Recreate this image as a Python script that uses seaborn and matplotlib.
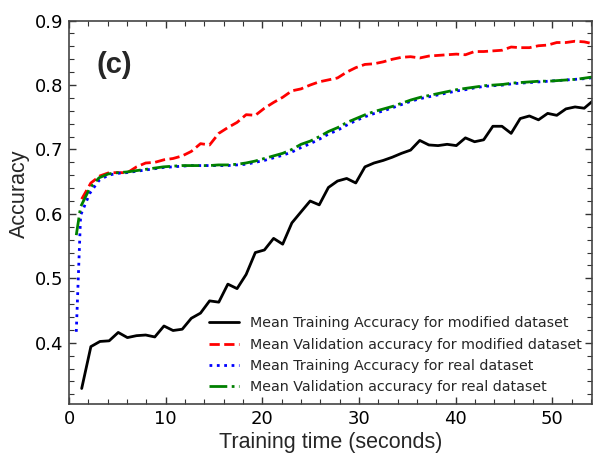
"""
Training / validation accuracy vs. training time, panel (c).
"""

import matplotlib
matplotlib.use("Agg")
import matplotlib.pyplot as plt
from matplotlib.ticker import MultipleLocator
import seaborn as sns

# times (s) at which each epoch finished
time_modified = [
    1.31, 2.26, 3.20, 4.15, 5.09, 6.04, 6.98, 7.93, 8.87, 9.82,
    10.76, 11.71, 12.65, 13.60, 14.54, 15.49, 16.43, 17.38, 18.32, 19.27,
    20.21, 21.16, 22.10, 23.05, 23.99, 24.94, 25.88, 26.83, 27.77, 28.72,
    29.66, 30.61, 31.55, 32.50, 33.44, 34.39, 35.33, 36.28, 37.22, 38.17,
    39.11, 40.06, 41.00, 41.95, 42.89, 43.84, 44.78, 45.73, 46.67, 47.62,
    48.56, 49.51, 50.45, 51.40, 52.34, 53.29, 54.23,
]
time_real = [
    0.75, 1.20, 2.15, 3.10, 4.05, 5.00, 5.95, 6.90, 7.85, 8.80,
    9.75, 10.70, 11.65, 12.60, 13.55, 14.50, 15.45, 16.40, 17.35, 18.30,
    19.25, 20.20, 21.15, 22.10, 23.05, 24.00, 24.95, 25.90, 26.85, 27.80,
    28.75, 29.70, 30.65, 31.60, 32.55, 33.50, 34.45, 35.40, 36.35, 37.30,
    38.25, 39.20, 40.15, 41.10, 42.05, 43.00, 43.95, 44.90, 45.85, 46.80,
    47.75, 48.70, 49.65, 50.60, 51.55, 52.50, 53.45, 54.40,
]

train_modified = [
    0.329, 0.394, 0.402, 0.403, 0.416, 0.408, 0.411, 0.412, 0.409, 0.426,
    0.419, 0.421, 0.438, 0.446, 0.465, 0.463, 0.491, 0.484, 0.506, 0.540,
    0.544, 0.562, 0.553, 0.586, 0.603, 0.620, 0.614, 0.641, 0.651, 0.655,
    0.648, 0.673, 0.679, 0.683, 0.688, 0.694, 0.699, 0.714, 0.707, 0.706,
    0.708, 0.706, 0.718, 0.712, 0.715, 0.736, 0.736, 0.725, 0.748, 0.752,
    0.746, 0.756, 0.753, 0.763, 0.766, 0.764, 0.776,
]
val_modified = [
    0.623, 0.648, 0.659, 0.664, 0.664, 0.664, 0.673, 0.679, 0.680, 0.684,
    0.686, 0.690, 0.697, 0.709, 0.707, 0.725, 0.734, 0.742, 0.754, 0.753,
    0.764, 0.773, 0.781, 0.791, 0.794, 0.800, 0.805, 0.808, 0.811, 0.820,
    0.827, 0.832, 0.833, 0.836, 0.840, 0.843, 0.844, 0.842, 0.845, 0.846,
    0.847, 0.848, 0.847, 0.852, 0.852, 0.853, 0.854, 0.859, 0.858, 0.858,
    0.861, 0.862, 0.866, 0.866, 0.868, 0.867, 0.864,
]
train_real = [
    0.417, 0.598, 0.632, 0.652, 0.660, 0.663, 0.664, 0.666, 0.668, 0.670,
    0.672, 0.673, 0.674, 0.675, 0.675, 0.675, 0.675, 0.675, 0.676, 0.677,
    0.680, 0.683, 0.687, 0.691, 0.696, 0.703, 0.709, 0.716, 0.724, 0.730,
    0.738, 0.745, 0.751, 0.756, 0.760, 0.765, 0.770, 0.775, 0.779, 0.782,
    0.785, 0.788, 0.791, 0.793, 0.796, 0.798, 0.799, 0.800, 0.802, 0.803,
    0.804, 0.805, 0.806, 0.807, 0.808, 0.809, 0.810, 0.812,
]
val_real = [
    0.567, 0.611, 0.640, 0.656, 0.662, 0.664, 0.665, 0.667, 0.669, 0.671,
    0.673, 0.674, 0.675, 0.675, 0.675, 0.675, 0.676, 0.676, 0.677, 0.679,
    0.682, 0.686, 0.690, 0.694, 0.700, 0.708, 0.713, 0.720, 0.728, 0.734,
    0.742, 0.748, 0.754, 0.759, 0.763, 0.767, 0.772, 0.777, 0.781, 0.784,
    0.787, 0.790, 0.793, 0.795, 0.797, 0.799, 0.800, 0.801, 0.803, 0.804,
    0.805, 0.806, 0.806, 0.807, 0.808, 0.809, 0.811, 0.813,
]

labels = [
    "Mean Training Accuracy for modified dataset",
    "Mean Validation accuracy for modified dataset",
    "Mean Training Accuracy for real dataset",
    "Mean Validation accuracy for real dataset",
]

sns.set_style("ticks")
plt.rcParams["font.family"] = ["DejaVu Sans"]

fig = plt.figure(figsize=(5.93, 4.58), dpi=100)
ax = fig.add_axes([0.1164, 0.118, 0.882, 0.837])

series = [
    (time_modified, train_modified, "black", "-"),
    (time_modified, val_modified, "red", "--"),
    (time_real, train_real, "blue", ":"),
    (time_real, val_real, "green", "-."),
]
for (t, acc, color, ls), lab in zip(series, labels):
    sns.lineplot(x=t, y=acc, color=color, linestyle=ls, linewidth=2,
                 label=lab, ax=ax, sort=False)

ax.set_xlim(0, 54.1)
ax.set_ylim(0.305, 0.9)
ax.xaxis.set_major_locator(MultipleLocator(10))
ax.xaxis.set_minor_locator(MultipleLocator(2))
ax.yaxis.set_major_locator(MultipleLocator(0.1))
ax.yaxis.set_minor_locator(MultipleLocator(0.02))
ax.tick_params(which="both", direction="in", top=True, right=True,
               colors="#333333", labelcolor="black")
ax.tick_params(which="major", length=5, width=1, labelsize=13, pad=4)
ax.tick_params(which="minor", length=3.5, width=0.8)
for sp in ax.spines.values():
    sp.set_color("#444444")
    sp.set_linewidth(1.2)

ax.set_xlabel("Training time (seconds)", fontsize=15.5,
              family=["Liberation Sans"], labelpad=3)
ax.set_ylabel("Accuracy", fontsize=15.5, family=["Liberation Sans"])
ax.yaxis.set_label_coords(-0.074, 0.548)
ax.text(0.053, 0.884, "(c)", transform=ax.transAxes, fontsize=21,
        fontweight="bold", family=["Liberation Sans"], va="center")

ax.legend(loc="lower right", frameon=False, fontsize=10.3,
          labelspacing=0.5, handlelength=2.1, handletextpad=0.8,
          borderaxespad=0.3, bbox_to_anchor=(1.0, 0.0))

fig.savefig("out.png", dpi=100)
